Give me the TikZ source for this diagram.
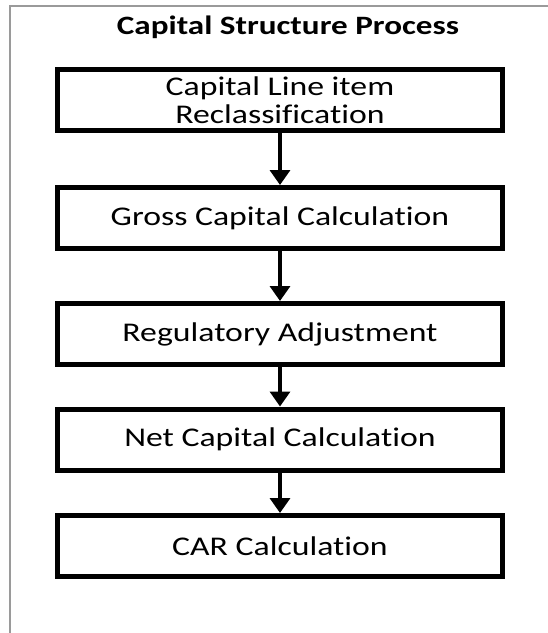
\documentclass[tikz,border=0pt]{standalone}
\usepackage{fontspec}
\setmainfont{Carlito}[FakeStretch=1.25, Ligatures=NoCommon]
\usepackage{tikz}
\usetikzlibrary{positioning,arrows.meta}
\definecolor{framegray}{HTML}{9A9A9A}

\begin{document}
\begin{tikzpicture}[x=1pt, y=-1pt,
  stage/.style={draw, line width=5pt, minimum width=445pt, minimum height=61pt,
                align=center, font=\fontsize{27}{28}\selectfont},
  flow/.style={-{Triangle[width=20pt,length=15pt]}, line width=3.5pt},
  frame/.style={draw=framegray, line width=2pt}]
\useasboundingbox (0,0) rectangle (548,633);
% frame
\coordinate (ftop) at (548,6);
\coordinate (fbot) at (10,633);
\draw[frame] (ftop) -| (fbot);
\node[font=\fontsize{26.5}{30}\selectfont\bfseries] (title) at (288,27) {Capital Structure Process};
% stages
\node[stage] (reclass) at (280,100) {Capital Line item\\Reclassification};
\node[stage, below=52pt of reclass] (gross) {Gross Capital Calculation};
\node[stage, below=50pt of gross] (regadj) {Regulatory Adjustment};
\node[stage, below=39.5pt of regadj] (net) {Net Capital Calculation};
\node[stage, below=40.5pt of net] (car) {CAR Calculation};
\draw[flow] (reclass) -- (gross);
\draw[flow] (gross) -- (regadj);
\draw[flow] (regadj) -- (net);
\draw[flow] (net) -- (car);
\end{tikzpicture}
\end{document}
